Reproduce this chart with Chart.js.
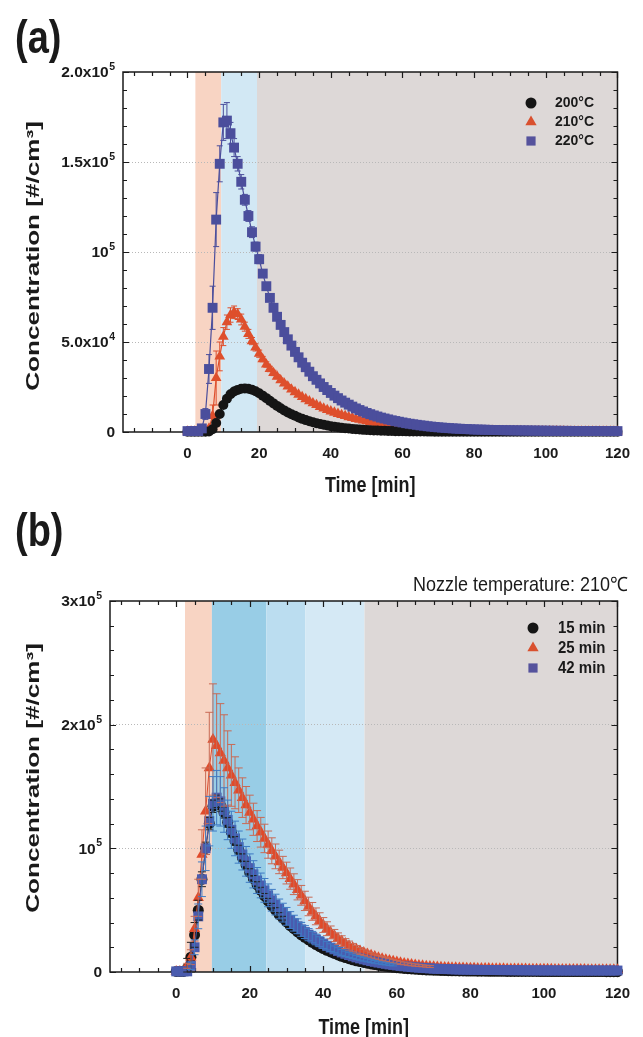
<!DOCTYPE html>
<html><head><meta charset="utf-8">
<script src="https://cdn.jsdelivr.net/npm/chart.js@4/dist/chart.umd.min.js"></script>
<style>
html,body{margin:0;padding:0;background:#fff;}
#wrap{position:relative;width:643px;height:1037px;overflow:hidden;background:#fff;}
canvas{position:absolute;left:0;}
#ca{top:0;} #cb{top:510px;}
</style></head><body>
<div id="wrap">
<canvas id="ca" width="643" height="510"></canvas>
<canvas id="cb" width="643" height="527"></canvas>
</div>
<script>
// ---------- DATA (concentration in units of 10^3 #/cm3) ----------
const timeMin = [0,1,2,3,4,5,6,7,8,9,10,11,12,13,14,15,16,17,18,19,20,21,22,23,24,25,26,27,28,29,30,31,32,33,34,35,36,37,38,39,40,41,42,43,44,45,46,47,48,49,50,51,52,53,54,55,56,57,58,59,60,61,62,63,64,65,66,67,68,69,70,71,72,73,74,75,76,77,78,79,80,81,82,83,84,85,86,87,88,89,90,91,92,93,94,95,96,97,98,99,100,101,102,103,104,105,106,107,108,109,110,111,112,113,114,115,116,117,118,119,120];

// Panel (a): nozzle temperature series
const conc200C = [0.2,0.2,0.2,0.2,0.2,0.2,0.3,1.5,5,10, 15,18.5,21,22.5,23.4,24,24.2,24,23.5,22.6, 21.5,20.2,18.8,17.3,15.9,14.5,13.2,12,10.9,9.9, 9,8.1,7.3,6.6,6,5.4,4.9,4.4,4,3.6, 3.2,2.9,2.6,2.3,2.1,1.9,1.7,1.5,1.35,1.2, 1.1,1,0.9,0.8,0.72,0.65,0.58,0.52,0.47,0.42, 0.38,0.35,0.32,0.3,0.28,0.26,0.24,0.22,0.21,0.2, 0.19,0.18,0.18,0.17,0.17,0.16,0.16,0.15,0.15,0.15, 0.14,0.14,0.14,0.13,0.13,0.13,0.13,0.12,0.12,0.12, 0.12,0.12,0.11,0.11,0.11,0.11,0.11,0.1,0.1,0.1, 0.1,0.1,0.1,0.1,0.1,0.1,0.1,0.1,0.1,0.1, 0.1,0.1,0.1,0.1,0.1,0.1,0.1,0.1,0.1,0.1,0.1];
const conc210C = [0.3,0.3,0.3,0.3,0.3,0.3,2,9,30,42, 53,61,65,66.5,65.5,62.5,58.5,54.5,50.5,47, 43.5,40.5,37.5,35,32.8,30.8,28.8,27,25.3,23.7, 22.2,20.8,19.5,18.3,17.1,16,15,14,13.1,12.3, 11.5,10.8,10.1,9.5,8.9,8.3,7.8,7.3,6.8,6.4, 6,5.6,5.2,4.9,4.6,4.3,4,3.7,3.5,3.2, 3,2.8,2.6,2.45,2.3,2.15,2,1.85,1.75,1.6, 1.5,1.4,1.3,1.25,1.15,1.1,1,0.95,0.9,0.85, 0.8,0.78,0.75,0.72,0.7,0.68,0.65,0.63,0.6,0.58, 0.56,0.55,0.53,0.52,0.5,0.49,0.48,0.46,0.45,0.44, 0.43,0.42,0.41,0.4,0.39,0.38,0.37,0.36,0.35,0.35, 0.34,0.34,0.33,0.33,0.32,0.32,0.31,0.31,0.3,0.3,0.3];
const conc220C = [0.5,0.5,0.5,0.5,2,10,35,69,118,149, 172,173,166,158,149,139,129,120,111,103, 96,88,81,74.5,69,64,59.5,55.5,51.5,48, 44.5,41.5,38.5,36,33.5,31,29,27,25,23.3, 21.7,20.2,18.8,17.5,16.3,15.2,14.1,13.1,12.2,11.4, 10.6,9.9,9.2,8.6,8,7.5,7,6.5,6.1,5.7, 5.3,4.9,4.6,4.3,4,3.7,3.5,3.2,3,2.8, 2.6,2.45,2.3,2.15,2,1.9,1.8,1.7,1.6,1.5, 1.4,1.35,1.3,1.25,1.2,1.15,1.1,1.05,1,0.98, 0.95,0.92,0.9,0.88,0.85,0.83,0.8,0.78,0.76,0.74, 0.72,0.7,0.68,0.66,0.65,0.64,0.62,0.61,0.6,0.59, 0.58,0.57,0.56,0.55,0.54,0.53,0.52,0.51,0.5,0.5,0.5];
const err200C = [0,0,0,0,0,0,0,0.5,1,1.5, 1.5,1.5,1.5,1.5,1.5,1.5,1.5,1.5,1.5,1.5, 1.2,1.2,1,1,1,1,0.8,0.8,0.8,0.8];
const err210C = [0,0,0,0,0,0,1,6,15,8, 5,4,4,3.5,3,3,2.5,2.5,2,2, 2,1.5,1.5,1.5,1.5,1.2,1.2,1.2,1,1];
const err220C = [0,0,0,0,1,3,8,12,15,10, 10,10,6,5,4,4,3,3,3,2.5, 2.5,2,2,2,2,1.5,1.5,1.5,1.5,1.5];

// Panel (b): printing duration series (nozzle 210 C)
const conc15min = [0.5,0.5,0.5,3,12,30,50,75,100,120, 134,138,135,129,121,113,106,99,92.5,86.5, 80.5,75.5,70.5,66,61.5,57.5,53.5,50,46.5,43.5, 40.5,37.5,35,32.5,30,28,26,24,22.2,20.5, 19,17.5,16.2,15,13.8,12.7,11.7,10.8,9.9,9.1, 8.4,7.7,7.1,6.5,6,5.5,5,4.6,4.2,3.8, 3.5,3.2,2.9,2.7,2.5,2.3,2.1,1.9,1.7,1.6, 1.5,1.4,1.3,1.2,1.1,1,0.95,0.9,0.85,0.8, 0.76,0.72,0.68,0.65,0.62,0.6,0.58,0.56,0.54,0.52, 0.5,0.5,0.48,0.47,0.46,0.45,0.44,0.43,0.42,0.41, 0.4,0.4,0.39,0.38,0.37,0.36,0.36,0.35,0.35,0.34, 0.34,0.33,0.33,0.32,0.32,0.31,0.31,0.3,0.3,0.3,0.3];
const conc25min = [0.5,0.5,0.5,5,12,35,60,95,130,165, 188,183,177,171,165,159,153,147,141,135, 129,123.5,118,113,108,103,98,93.5,89,84.5, 80,75.5,71,66.5,62,57.5,53,49,45,41.5, 38,35,32,29.5,27,25,23,21.3,19.7,18.3, 17,15.8,14.6,13.5,12.5,11.6,10.8,10,9.3,8.6, 8,7.4,6.9,6.4,6,5.6,5.3,5,4.7,4.4, 4.2,4,3.8,3.7,3.6,3.5,3.4,3.3,3.2,3.1, 3,3,2.9,2.9,2.8,2.8,2.7,2.7,2.6,2.6, 2.5,2.5,2.5,2.4,2.4,2.4,2.3,2.3,2.3,2.2, 2.2,2.2,2.2,2.1,2.1,2.1,2.1,2,2,2, 2,2,1.9,1.9,1.9,1.9,1.8,1.8,1.8,1.8,1.8];
const conc42min = [0.5,0.5,0.5,0.5,5,20,45,75,100,122, 136,141,138,131,123,115,108,101,95,89.5, 84,79,74,70,66,62,58,54.5,51,48, 45,42,39.5,37,34.5,32.3,30.2,28.2,26.3,24.5, 22.8,21.2,19.7,18.3,17,15.8,14.7,13.7,12.7,11.8, 11,10.2,9.5,8.8,8.2,7.6,7.1,6.6,6.1,5.7, 5.3,4.9,4.6,4.3,4,3.7,3.5,3.3,3.1,2.9, 2.7,2.6,2.5,2.4,2.3,2.2,2.1,2,1.95,1.9, 1.85,1.8,1.75,1.7,1.65,1.6,1.58,1.55,1.52,1.5, 1.48,1.45,1.42,1.4,1.38,1.36,1.34,1.32,1.3,1.28, 1.27,1.26,1.25,1.24,1.23,1.22,1.21,1.2,1.2,1.2, 1.2,1.2,1.2,1.2,1.2,1.2,1.2,1.2,1.2,1.2,1.2];
const err15min = [0,0,0,8,12,10,8,6,5,5, 5,5,5,4.5,4,4,3.5,3.5,3,3, 3,2.5,2.5,2.5,2,2,2,2,1.5,1.5];
const err25min = [0,0,0,2,6,10,15,20,35,45, 45,42,40,37,30,25,21,18,16,15, 14,13,12.5,12,11.5,11,10.5,10,9.5,9, 8.8,8.6,8.4,8.2,8,7.8,7.5,7.2,6.8,6.4, 6,5.6,5.2,4.9,4.6,4.3,4,3.7,3.4,3.1, 2.8,2.6,2.4,2.2,2,1.8,1.7,1.6,1.5,1.4, 1.3,1.2,1.1,1,1,0.9,0.9,0.8,0.8,0.8];
const err42min = [0,0,0,0,3,6,10,14,18,20, 22,22,20,18,16,15,14,13,12.5,12, 11.5,11,10.5,10,9.6,9.2,8.8,8.4,8,7.6, 7.2,6.8,6.4,6,5.6,5.2,4.9,4.6,4.3,4, 3.7,3.4,3.1,2.8,2.6,2.4,2.2,2,1.8,1.6, 1.5,1.4,1.3,1.2,1.1,1,1,0.9,0.9,0.8];

// Series labels
const labelsA = ['200\u00B0C','210\u00B0C','220\u00B0C'];
const labelsB = ['15 min','25 min','42 min'];

// Ticks
const xTickMarks = [-15,-10,-5,0,5,10,15,20,25,30,35,40,45,50,55,60,65,70,75,80,85,90,95,100,105,110,115,120];
const xMajorTicks = [0,20,40,60,80,100,120];
const yTickMarksA = [0,10,20,30,40,50,60,70,80,90,100,110,120,130,140,150,160,170,180,190,200];
const yMajorA = [0,50,100,150,200];
const yLabelBaseA = ['0','5.0x10','10','1.5x10','2.0x10'];
const yLabelExpA = ['','4','5','5','5'];
const yTickMarksB = [0,20,40,60,80,100,120,140,160,180,200,220,240,260,280,300];
const yMajorB = [0,100,200,300];
const yLabelBaseB = ['0','10','2x10','3x10'];
const yLabelExpB = ['','5','5','5'];

// Shaded phases (time boundaries, min)
const phaseEdgesA = [2.2, 9.4, 19.4, 120];
const phaseEdgesB = [2.4, 9.7, 24.5, 35.1, 51.2, 120];

// ---------- STYLE ----------
const FONT = "'Liberation Sans', Arial, Helvetica, sans-serif";
const INK = '#1a1a1a';
const phaseColorsA = ['#F8D4C3','#D2E8F4','#DDD8D7'];
const phaseColorsB = ['#F8D4C3','#98CDE6','#BBDDF0','#D5E9F5','#DDD8D7'];

function pts(series){ return timeMin.map((t,i)=>({x:t,y:series[i]})); }

function stretchedText(ctx, text, x, y, font, o){
  o = o || {};
  ctx.save();
  ctx.translate(x, y);
  if (o.rot) ctx.rotate(o.rot);
  ctx.scale(o.sx || 1, o.sy || 1);
  ctx.font = font;
  ctx.fillStyle = o.color || INK;
  ctx.textAlign = o.align || 'left';
  ctx.textBaseline = o.baseline || 'alphabetic';
  ctx.fillText(text, 0, 0);
  ctx.restore();
}

function makePanel(canvasId, P){
  function drawErrors(chart){
    const {ctx, scales: {x, y}} = chart;
    ctx.save();
    ctx.lineWidth = 1;
    chart.data.datasets.forEach(ds => {
      const errs = ds.errors || [];
      ctx.strokeStyle = ds.errorColor;
      ctx.beginPath();
      ds.data.forEach((p, i) => {
        const e = errs[i];
        if (!e) return;
        const px = x.getPixelForValue(p.x);
        const yt = y.getPixelForValue(p.y + e);
        const yb = y.getPixelForValue(Math.max(0, p.y - e));
        ctx.moveTo(px, yt); ctx.lineTo(px, yb);
        ctx.moveTo(px - P.capHalf, yt); ctx.lineTo(px + P.capHalf, yt);
        ctx.moveTo(px - P.capHalf, yb); ctx.lineTo(px + P.capHalf, yb);
      });
      ctx.stroke();
    });
    ctx.restore();
  }
  const decor = {
    id: 'decor_' + canvasId,
    beforeDraw(chart){
      const {ctx, chartArea: a, scales: {x}} = chart;
      ctx.save();
      for (let i = 0; i < P.phaseColors.length; i++){
        const x0 = x.getPixelForValue(P.phaseEdges[i]);
        const x1 = x.getPixelForValue(P.phaseEdges[i+1]);
        ctx.fillStyle = P.phaseColors[i];
        ctx.fillRect(x0, a.top, x1 - x0, a.bottom - a.top);
      }
      ctx.restore();
    },
    beforeDatasetsDraw(chart){
      const {ctx, chartArea: a, scales: {x, y}} = chart;
      ctx.save();
      ctx.strokeStyle = INK;
      ctx.lineWidth = 1.5;
      ctx.strokeRect(a.left, a.top, a.right - a.left, a.bottom - a.top);
      ctx.lineWidth = 1.2;
      ctx.beginPath();
      x.ticks.forEach(t => {
        const px = Math.round(x.getPixelForValue(t.value)) + 0.5;
        const L = xMajorTicks.includes(t.value) ? 6 : 4;
        ctx.moveTo(px, a.bottom); ctx.lineTo(px, a.bottom - L);
        ctx.moveTo(px, a.top); ctx.lineTo(px, a.top + L);
      });
      y.ticks.forEach(t => {
        const py = Math.round(y.getPixelForValue(t.value)) + 0.5;
        const L = P.yMajor.includes(t.value) ? 6 : 4;
        ctx.moveTo(a.left, py); ctx.lineTo(a.left + L, py);
        ctx.moveTo(a.right, py); ctx.lineTo(a.right - L, py);
      });
      ctx.stroke();
      ctx.restore();
      // y tick labels with superscript exponents
      ctx.save();
      ctx.fillStyle = INK;
      ctx.textBaseline = 'middle';
      ctx.textAlign = 'left';
      P.yMajor.forEach((v, k) => {
        const py = y.getPixelForValue(v);
        const xr = a.left - P.yTickPad;
        ctx.font = 'bold 10.5px ' + FONT;
        const exp = P.yLabelExp[k];
        const wE = exp ? ctx.measureText(exp).width : 0;
        if (exp) ctx.fillText(exp, xr - wE, py - 5);
        ctx.font = 'bold 15.5px ' + FONT;
        const wB = ctx.measureText(P.yLabelBase[k]).width;
        ctx.fillText(P.yLabelBase[k], xr - wE - wB - (exp ? 0.5 : 0), py + 1);
      });
      ctx.restore();
      if (!P.errorsOnTop) drawErrors(chart);
    },
    afterDatasetsDraw(chart){
      if (P.errorsOnTop) drawErrors(chart);
    },
    afterDraw(chart){
      const ctx = chart.ctx, a = chart.chartArea;
      stretchedText(ctx, P.panel, P.panelPos[0], P.panelPos[1], 'bold 38px ' + FONT, {sy: 1.2});
      stretchedText(ctx, 'Time [min]', (a.left + a.right) / 2, P.xTitleY, 'bold 18px ' + FONT, {align:'center', baseline:'middle', sy:1.25});
      stretchedText(ctx, 'Concentration [#/cm\u00B3]', 34, P.yTitleY, 'bold 18px ' + FONT, {align:'center', baseline:'middle', rot:-Math.PI/2, sx:1.45});
      if (P.note) stretchedText(ctx, P.note, P.notePos[0], P.notePos[1], '18px ' + FONT, {align:'right', sy:1.1});
      // legend
      P.legend.forEach((lab, i) => {
        const ly = P.legendY[i];
        ctx.save();
        ctx.fillStyle = P.legendColors[i];
        ctx.strokeStyle = P.legendColors[i];
        Chart.helpers.drawPoint(ctx, {pointStyle: P.legendStyles[i], radius: P.legendRadius[i], borderWidth: 0, rotation: 0}, P.legendX, ly);
        ctx.restore();
        stretchedText(ctx, lab, P.legendX + P.legendGap, ly, 'bold ' + P.legendFont + 'px ' + FONT, {baseline:'middle', sy:1.1});
      });
    }
  };

  return new Chart(document.getElementById(canvasId), {
    type: 'scatter',
    data: { datasets: P.datasets },
    options: {
      responsive: false,
      animation: false,
      events: [],
      layout: { padding: { left: 0, right: P.padRight, top: P.padTop, bottom: 0 } },
      plugins: { legend: { display: false }, tooltip: { enabled: false } },
      scales: {
        x: {
          type: 'linear', min: -18, max: 120,
          afterBuildTicks: s => { s.ticks = xTickMarks.map(v => ({value: v})); },
          afterFit: s => { s.height = P.xAxisH; },
          grid: { display: false, drawTicks: false },
          border: { display: false },
          ticks: { autoSkip: false, maxRotation: 0, padding: 13, color: INK,
            font: { family: FONT, size: 15, weight: 'bold' },
            callback: v => xMajorTicks.includes(v) ? String(v) : '' }
        },
        y: {
          type: 'linear', min: 0, max: P.yMax,
          afterBuildTicks: s => { s.ticks = P.yTickMarks.map(v => ({value: v})); },
          afterFit: s => { s.width = P.yAxisW; },
          grid: { drawTicks: false, lineWidth: 1,
            color: c => (c.tick && P.yMajor.includes(c.tick.value) && c.tick.value > 0 && c.tick.value < P.yMax) ? '#b8b8b8' : 'rgba(0,0,0,0)' },
          border: { display: false, dash: [1, 2] },
          ticks: { display: false }
        }
      }
    },
    plugins: [decor]
  });
}

// Panel (a)
makePanel('ca', {
  panel: '(a)', panelPos: [15, 53],
  padTop: 72, padRight: 21, xAxisH: 78, yAxisW: 123, yTickPad: 8,
  yMax: 200, yTickMarks: yTickMarksA, yMajor: yMajorA, yLabelBase: yLabelBaseA, yLabelExp: yLabelExpA,
  phaseEdges: phaseEdgesA, phaseColors: phaseColorsA,
  xTitleY: 486, yTitleY: 256, capHalf: 3, errorsOnTop: false,
  legend: labelsA, legendX: 531, legendGap: 24, legendFont: 14,
  legendY: [103, 122, 141], legendRadius: [5.5, 6.5, 6.5],
  legendStyles: ['circle', 'triangle', 'rect'],
  legendColors: ['#151515', '#D9502E', '#55529C'],
  datasets: [
    { label: labelsA[2], data: pts(conc220C), errors: err220C, errorColor: '#4B4E9C', order: 1,
      pointStyle: 'rect', pointRadius: 7, backgroundColor: '#4B4E9C', borderColor: '#4B4E9C',
      pointBorderWidth: 0, showLine: true, borderWidth: 1.2, clip: false },
    { label: labelsA[0], data: pts(conc200C), errors: err200C, errorColor: '#151515', order: 2,
      pointStyle: 'circle', pointRadius: 5, backgroundColor: '#151515', borderColor: '#151515',
      pointBorderWidth: 0, showLine: true, borderWidth: 1, clip: false },
    { label: labelsA[1], data: pts(conc210C), errors: err210C, errorColor: '#DE4F2C', order: 3,
      pointStyle: 'triangle', pointRadius: 6.2, backgroundColor: '#DE4F2C', borderColor: '#DE4F2C',
      pointBorderWidth: 0, showLine: true, borderWidth: 1.2, clip: false }
  ]
});

// Panel (b)
makePanel('cb', {
  panel: '(b)', panelPos: [15, 36],
  note: 'Nozzle temperature: 210\u2103', notePos: [628, 81],
  padTop: 91, padRight: 13.5, xAxisH: 65, yAxisW: 110, yTickPad: 8,
  yMax: 300, yTickMarks: yTickMarksB, yMajor: yMajorB, yLabelBase: yLabelBaseB, yLabelExp: yLabelExpB,
  phaseEdges: phaseEdgesB, phaseColors: phaseColorsB,
  xTitleY: 518, yTitleY: 268, capHalf: 4, errorsOnTop: true,
  legend: labelsB, legendX: 533, legendGap: 25, legendFont: 15,
  legendY: [118, 138, 158], legendRadius: [5.5, 6.5, 6.5],
  legendStyles: ['circle', 'triangle', 'rect'],
  legendColors: ['#151515', '#D9502E', '#55529C'],
  datasets: [
    { label: labelsB[0], data: pts(conc15min), errors: err15min, errorColor: '#222222', order: 3,
      pointStyle: 'circle', pointRadius: 5.5, backgroundColor: '#151515', borderColor: '#151515',
      pointBorderWidth: 0, showLine: true, borderWidth: 1, clip: false },
    { label: labelsB[1], data: pts(conc25min), errors: err25min, errorColor: '#C86A55', order: 2,
      pointStyle: 'triangle', pointRadius: 6.5, backgroundColor: '#E04A2A', borderColor: '#E04A2A',
      pointBorderWidth: 0, showLine: true, borderWidth: 1, clip: false },
    { label: labelsB[2], data: pts(conc42min), errors: err42min, errorColor: '#3F7BC4', order: 1,
      pointStyle: 'rect', pointRadius: 7, backgroundColor: '#4A5BAE', borderColor: '#4A5BAE',
      pointBorderWidth: 0, showLine: true, borderWidth: 1, clip: false }
  ]
});
</script>
</body></html>
